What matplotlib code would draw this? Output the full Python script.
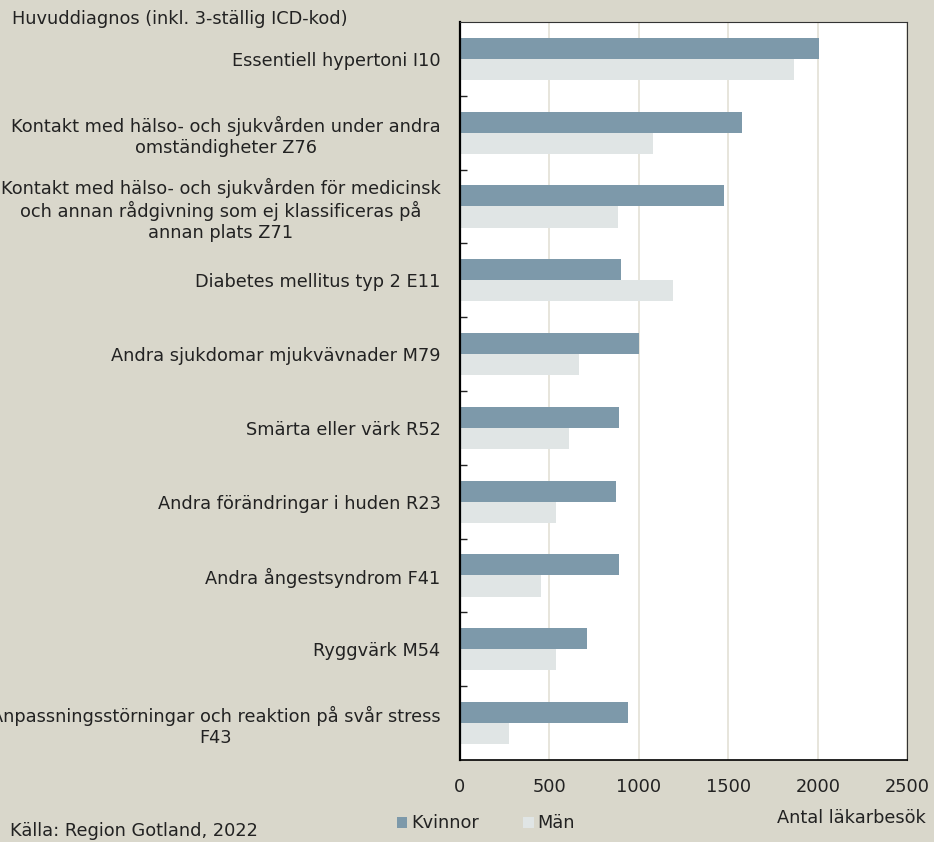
import numpy as np
import matplotlib.pyplot as plt
from matplotlib.ticker import FixedLocator

categories = [
    'Essentiell hypertoni I10',
    'Kontakt med hälso- och sjukvården under andra\nomständigheter Z76',
    'Kontakt med hälso- och sjukvården för medicinsk\noch annan rådgivning som ej klassificeras på\nannan plats Z71',
    'Diabetes mellitus typ 2 E11',
    'Andra sjukdomar mjukvävnader M79',
    'Smärta eller värk R52',
    'Andra förändringar i huden R23',
    'Andra ångestsyndrom F41',
    'Ryggvärk M54',
    'Anpassningsstörningar och reaktion på svår stress\nF43',
]
kvinnor = [2007, 1575, 1473, 899, 1000, 890, 873, 890, 711, 940]
man = [1866, 1076, 881, 1188, 663, 607, 538, 451, 538, 274]

bg = '#D9D7CB'
c_kv = '#7D99AA'
c_man = '#E0E5E5'
txt = '#222222'
fs = 12.8

plt.rcParams['font.family'] = 'DejaVu Sans'

fig = plt.figure(figsize=(9.34, 8.42), dpi=100, facecolor=bg)
ax = fig.add_axes([0.4925, 0.0974, 0.4791, 0.8765])
ax.set_facecolor('white')

y = np.arange(len(categories))
h = 0.285
ax.barh(y - h / 2, kvinnor, height=h, color=c_kv, label='Kvinnor', zorder=2)
ax.barh(y + h / 2, man, height=h, color=c_man, label='Män', zorder=2)

ax.set_xlim(0, 2500)
ax.set_ylim(len(categories) - 0.5, -0.5)
ax.set_xticks([0, 500, 1000, 1500, 2000, 2500])
ax.set_yticks(y)
ax.set_yticklabels(categories, multialignment='center', fontsize=fs, color=txt)
ax.tick_params(axis='y', length=0, pad=14)
ax.yaxis.set_minor_locator(FixedLocator(np.arange(0.5, len(categories) - 1, 1)))
ax.tick_params(axis='y', which='minor', direction='in', length=5, width=1, color=txt)
ax.tick_params(axis='x', length=0, pad=13, labelsize=fs, labelcolor=txt)
ax.grid(axis='x', color='#E3E0D6', linewidth=1.2, zorder=0)
ax.set_axisbelow(True)

for s in ['top', 'right']:
    ax.spines[s].set_linewidth(0.8)
    ax.spines[s].set_color('#333333')
ax.spines['left'].set_linewidth(1.6)
ax.spines['bottom'].set_linewidth(1.2)
for s in ax.spines.values():
    s.set_zorder(5)

fig.text(0.013, 0.978, 'Huvuddiagnos (inkl. 3-ställig ICD-kod)', fontsize=fs,
         color=txt, va='center')
fig.text(0.991, 0.029, 'Antal läkarbesök', fontsize=fs, color=txt,
         ha='right', va='center')
fig.text(0.011, 0.013, 'Källa: Region Gotland, 2022', fontsize=fs,
         color=txt, va='center')

leg = fig.legend(loc='center', bbox_to_anchor=(0.52, 0.022), ncol=2, frameon=False,
                 fontsize=fs, handlelength=0.6, handleheight=0.6, handletextpad=0.2,
                 columnspacing=2.5)
for t in leg.get_texts():
    t.set_color(txt)

fig.savefig('out.png', dpi=100, facecolor=bg)
